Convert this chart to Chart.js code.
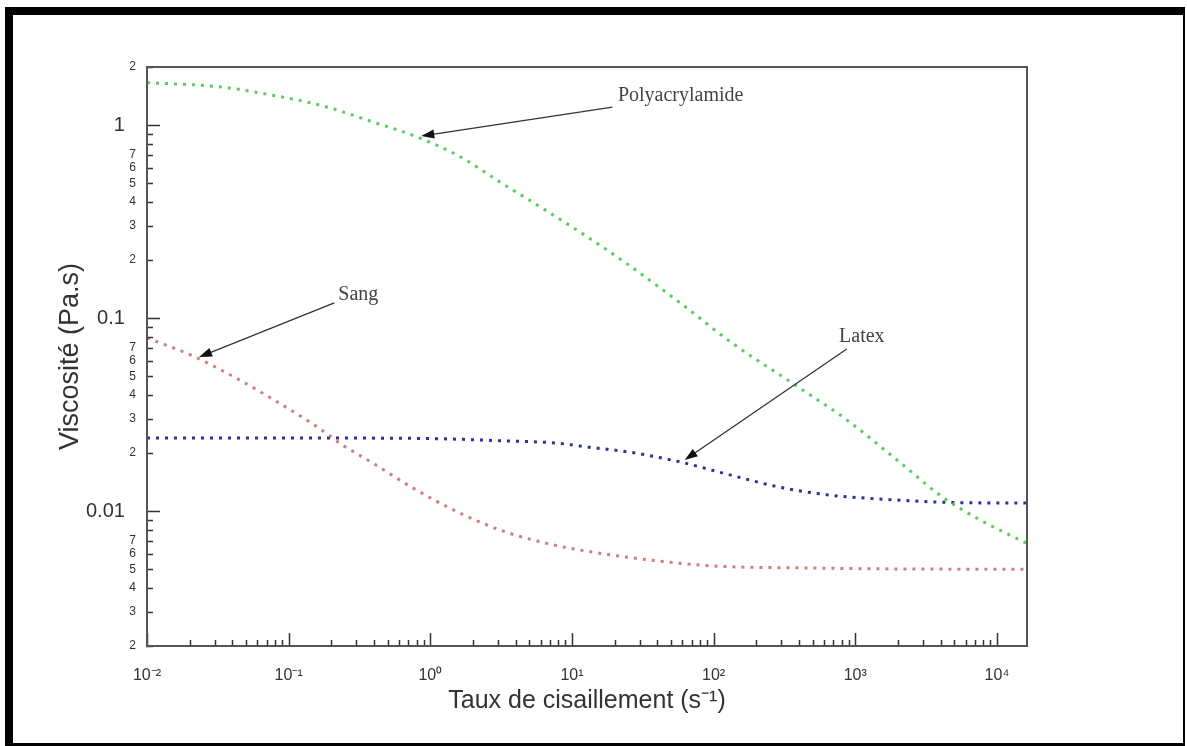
<!DOCTYPE html>
<html>
<head>
<meta charset="utf-8">
<script src="https://cdn.jsdelivr.net/npm/chart.js@4.4.1/dist/chart.umd.min.js"></script>
<style>
  html, body { margin: 0; padding: 0; background: #fff; }
  #cadre { position: absolute; left: 5px; top: 7px; width: 1170px; height: 728px;
    border-left: 8px solid #000; border-top: 8px solid #000; border-right: 2px solid #000; border-bottom: 3px solid #000; }
  #zone { position: absolute; left: 0; top: 0; width: 1187px; height: 746px; }
</style>
</head>
<body>
<div id="cadre"></div>
<div id="zone"><canvas id="grafico"></canvas></div>
<script>
// courbes (taux en s-1, viscosite en Pa.s)
const tauxPoly = [0.01, 0.032, 0.076, 0.18, 0.39, 0.8, 1.6, 3.2, 6.6, 12.7, 24, 58, 136, 360, 870, 1970, 4150, 7600, 16300];
const viscPoly = [1.66, 1.58, 1.43, 1.25, 1.04, 0.87, 0.69, 0.50, 0.36, 0.265, 0.193, 0.12, 0.074, 0.046, 0.0297, 0.0184, 0.0118, 0.009, 0.0068];

const tauxSang = [0.01, 0.021, 0.045, 0.09, 0.164, 0.24, 0.39, 0.75, 1.6, 3.4, 7.3, 12.7, 34, 98, 500, 2550, 16300];
const viscSang = [0.079, 0.0637, 0.0478, 0.0355, 0.0269, 0.022, 0.0178, 0.0132, 0.0098, 0.0078, 0.0067, 0.0062, 0.0056, 0.0052, 0.00507, 0.00501, 0.005];

const tauxLatex = [0.01, 0.18, 1.16, 3.4, 7.8, 12.7, 25.5, 57.5, 130, 293, 661, 1490, 4440, 16300];
const viscLatex = [0.0239, 0.0239, 0.0237, 0.0231, 0.0225, 0.0215, 0.0202, 0.018, 0.0154, 0.0133, 0.0121, 0.01155, 0.0111, 0.011];

// graduations
const majeursX = [0.01, 0.1, 1, 10, 100, 1000, 10000];
const etiquettesX = ["10⁻²", "10⁻¹", "10⁰", "10¹", "10²", "10³", "10⁴"];
const majeursY = [0.01, 0.1, 1];
const etiquettesY = ["0.01", "0.1", "1"];
const chiffresY = [2, 3, 4, 5, 6, 7];

// annotations (coordonnees dans les unites des axes)
const notes = ["Polyacrylamide", "Sang", "Latex"];
const notesX = [58.5, 0.31, 1112];
const notesY = [1.42, 0.132, 0.0798];
const debutX = [19.3, 0.21, 871];
const debutY = [1.24, 0.12, 0.0692];
const pointeX = [0.863, 0.0233, 62.4];
const pointeY = [0.878, 0.0628, 0.0184];

const xMin = 0.01, xMax = 16300, yMin = 0.002, yMax = 2;

function graduations(min, max) {
  const res = [];
  for (let e = Math.floor(Math.log10(min)); e <= Math.ceil(Math.log10(max)); e++) {
    for (let m = 1; m <= 9; m++) {
      const v = Number((m * Math.pow(10, e)).toPrecision(3));
      if (v >= min * 0.999 && v <= max * 1.001) res.push(v);
    }
  }
  return res;
}
function mantisse(v) {
  const e = Math.floor(Math.log10(v) + 1e-9);
  return Math.round(v / Math.pow(10, e));
}
const estMajeur = v => mantisse(v) === 1;

const ticksX = graduations(xMin, xMax);
const ticksY = graduations(yMin, yMax);

const police = "'Liberation Sans', Arial, sans-serif";

const marques = {
  id: "marques",
  afterDatasetsDraw(chart) {
    const { ctx, chartArea: a, scales: { x, y } } = chart;
    ctx.save();
    ctx.strokeStyle = "#333";
    ctx.lineWidth = 1.5;
    ctx.beginPath();
    y.ticks.forEach(t => {
      const p = Math.round(y.getPixelForValue(t.value)) + 0.5;
      ctx.moveTo(a.left - 1, p);
      ctx.lineTo(a.left + (estMajeur(t.value) ? 13 : 6), p);
    });
    x.ticks.forEach(t => {
      const p = Math.round(x.getPixelForValue(t.value)) + 0.5;
      ctx.moveTo(p, a.bottom);
      ctx.lineTo(p, a.bottom - (estMajeur(t.value) ? 13 : 6));
    });
    ctx.stroke();

    ctx.strokeStyle = "#555";
    ctx.lineWidth = 2;
    ctx.strokeRect(a.left, a.top, a.right - a.left, a.bottom - a.top);

    // textes et fleches
    ctx.font = "20px 'Liberation Serif', 'Times New Roman', serif";
    ctx.textAlign = "center";
    ctx.textBaseline = "middle";
    notes.forEach((txt, i) => {
      ctx.fillStyle = "#444";
      ctx.fillText(txt, x.getPixelForValue(notesX[i]), y.getPixelForValue(notesY[i]));
      const x0 = x.getPixelForValue(debutX[i]), y0 = y.getPixelForValue(debutY[i]);
      const x1 = x.getPixelForValue(pointeX[i]), y1 = y.getPixelForValue(pointeY[i]);
      const ang = Math.atan2(y1 - y0, x1 - x0);
      ctx.strokeStyle = "#333";
      ctx.lineWidth = 1.3;
      ctx.beginPath();
      ctx.moveTo(x0, y0);
      ctx.lineTo(x1 - 8 * Math.cos(ang), y1 - 8 * Math.sin(ang));
      ctx.stroke();
      ctx.fillStyle = "#111";
      ctx.beginPath();
      ctx.moveTo(x1, y1);
      ctx.lineTo(x1 - 13 * Math.cos(ang) + 4.5 * Math.sin(ang), y1 - 13 * Math.sin(ang) - 4.5 * Math.cos(ang));
      ctx.lineTo(x1 - 13 * Math.cos(ang) - 4.5 * Math.sin(ang), y1 - 13 * Math.sin(ang) + 4.5 * Math.cos(ang));
      ctx.closePath();
      ctx.fill();
    });
    ctx.restore();
  }
};

function serie(label, xs, ys, couleur) {
  return {
    label: label,
    data: xs.map((v, i) => ({ x: v, y: ys[i] })),
    borderColor: couleur,
    borderWidth: 3,
    borderDash: [3, 6],
    pointRadius: 0,
    cubicInterpolationMode: "monotone",
    fill: false,
  };
}

new Chart(document.getElementById("grafico"), {
  type: "line",
  data: {
    datasets: [
      serie("Polyacrylamide", tauxPoly, viscPoly, "#5ccd5c"),
      serie("Sang", tauxSang, viscSang, "#d27c7c"),
      serie("Latex", tauxLatex, viscLatex, "#2e2e9e"),
    ],
  },
  options: {
    responsive: true,
    maintainAspectRatio: false,
    animation: false,
    layout: { padding: { left: 54, top: 67, right: 160, bottom: 30 } },
    plugins: { legend: { display: false }, tooltip: { enabled: false } },
    scales: {
      x: {
        type: "logarithmic",
        min: xMin,
        max: xMax,
        grid: { display: false },
        border: { display: false },
        afterBuildTicks: s => { s.ticks = ticksX.map(v => ({ value: v })); },
        afterFit: s => { s.height = 70; },
        ticks: {
          autoSkip: false,
          maxRotation: 0,
          minRotation: 0,
          padding: 12,
          color: "#333",
          font: { family: police, size: 16 },
          callback: v => {
            const i = majeursX.findIndex(m => Math.abs(m - v) / m < 1e-6);
            return i >= 0 ? etiquettesX[i] : "";
          },
        },
        title: {
          display: true,
          text: "Taux de cisaillement (s⁻¹)",
          color: "#333",
          padding: 0,
          font: { family: police, size: 25 },
        },
      },
      y: {
        type: "logarithmic",
        min: yMin,
        max: yMax,
        grid: { display: false },
        border: { display: false },
        afterBuildTicks: s => { s.ticks = ticksY.map(v => ({ value: v })); },
        afterFit: s => { s.width = 93; },
        ticks: {
          autoSkip: false,
          padding: 3,
          color: "#333",
          font: ctx => ({ family: police, size: ctx.tick && estMajeur(ctx.tick.value) ? 20 : 12 }),
          callback: v => {
            const i = majeursY.findIndex(m => Math.abs(m - v) / m < 1e-6);
            if (i >= 0) return etiquettesY[i] + "  ";
            const m = mantisse(v);
            return chiffresY.includes(m) ? String(m) : "";
          },
        },
        title: {
          display: true,
          text: "Viscosité (Pa.s)",
          color: "#333",
          padding: 0,
          font: { family: police, size: 27 },
        },
      },
    },
  },
  plugins: [marques],
});
</script>
</body>
</html>
